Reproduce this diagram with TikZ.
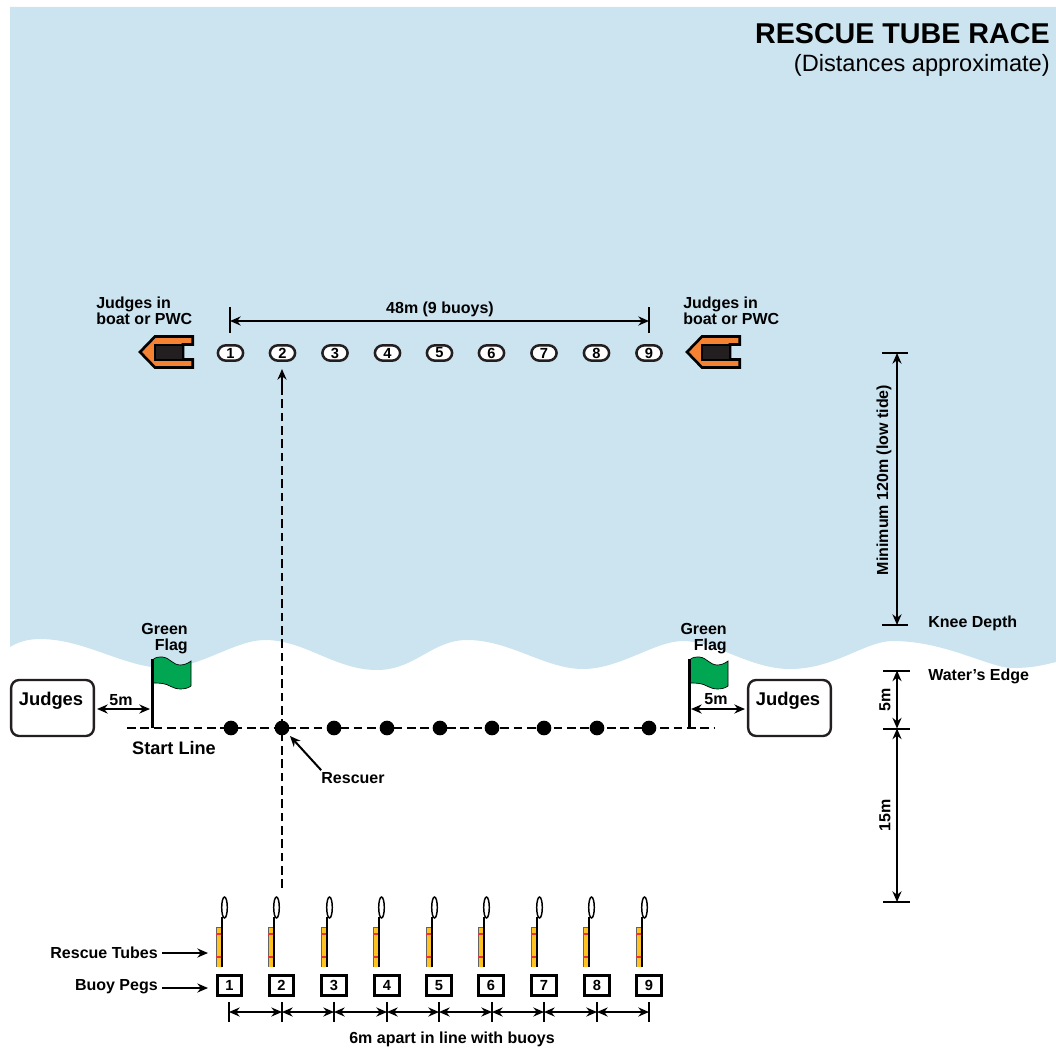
\documentclass[tikz,border=0pt]{standalone}
\usepackage{fontspec}
\setmainfont{Liberation Sans}
\usepackage{xcolor}
\usetikzlibrary{arrows.meta}
\definecolor{watercolor}{RGB}{203,228,240}
\definecolor{flagcolor}{RGB}{0,166,81}
\definecolor{boatcolor}{RGB}{245,130,50}
\definecolor{tubecolor}{RGB}{255,194,32}
\definecolor{bandcolor}{RGB}{237,50,55}
\definecolor{inkcolor}{RGB}{35,31,32}

\begin{document}
\begin{tikzpicture}[
    x=0.75pt,
    y=-0.75pt,
    every node/.style={text=black},
    label/.style={font=\fontsize{12}{12}\selectfont\bfseries, align=left, inner sep=0pt},
    buoy/.style={rectangle, draw=inkcolor, fill=white, rounded corners=6pt, line width=1.9pt, minimum width=19pt, minimum height=11.5pt, inner sep=0pt, font=\fontsize{11}{11}\selectfont\bfseries},
    peg/.style={rectangle, draw=black, fill=white, line width=2.1pt, minimum width=18.5pt, minimum height=15.5pt, inner sep=0pt, font=\fontsize{11}{11}\selectfont\bfseries},
    swimmer/.style={circle, fill=black, minimum size=11pt, inner sep=0pt},
    judges/.style={rectangle, draw=inkcolor, fill=white, rounded corners=6pt, line width=1.8pt, minimum width=62pt, minimum height=42pt},
    arrow/.style={-{Stealth[length=8pt,width=6.8pt]}, line width=1.5pt},
    dimarrow/.style={{Stealth[length=8pt,width=6.8pt]}-{Stealth[length=8pt,width=6.8pt]}, line width=1.5pt},
    tick/.style={line width=1.5pt},
    dashline/.style={line width=2pt, dash pattern=on 6.5pt off 3.5pt},
    boat/.pic={
        \draw[fill=boatcolor, line width=2pt, line join=miter] (-26,0) -- (-11,-15.5) -- (26.7,-15.5) -- (26.7,-7.5) -- (17,-7.5) -- (17,7.5) -- (26.7,7.5) -- (26.7,15.5) -- (-11,15.5) -- cycle;
        \draw[fill=inkcolor, line width=1.5pt] (-11,-7.5) rectangle (17,7.5);
    },
    greenflag/.pic={
        \draw[fill=flagcolor, line width=0.5pt] (0,0) .. controls (3,-3) and (6,-3) .. (10,-3) .. controls (18,-2) and (20,5) .. (28,5) .. controls (32,5) and (36,3) .. (38.5,1) -- (38.5,26) .. controls (36,28) and (32,29) .. (28,29) .. controls (20,29) and (16,24) .. (10,23.5) .. controls (6,23) and (3,23) .. (0,23) -- cycle;
        \draw[line width=2.2pt] (0,-1) -- (0,68);
    },
    rescuetube/.pic={
        \fill[tubecolor] (-2.7,-20) rectangle (3,20);
        \draw[inkcolor!70, line width=0.5pt] (-2.7,20) -- (-2.7,-20) -- (3,-20);
        \draw[bandcolor, line width=1.1pt] (-2.7,-13) -- (3,-13);
        \draw[bandcolor, line width=1.1pt] (-2.7,10) -- (3,10);
        \draw[line width=1pt] (3,20) -- (3,-30);
        \draw[line width=1.1pt] (5.5,-39.5) ellipse (2.8 and 10.5);
    }
]
\useasboundingbox (0,0) rectangle (1056,1049);

% Water
\fill[watercolor] (10,7) -- (1056,7) -- (1056,662) .. controls (1040,666) and (1030,668) .. (1012,668) .. controls (990,668) and (945,641) .. (893,641) .. controls (865,641) and (835,669) .. (790,669) .. controls (750,669) and (715,641) .. (683,641) .. controls (655,641) and (620,669) .. (583,669) .. controls (545,669) and (510,640) .. (467,640) .. controls (432,640) and (415,670) .. (377,670) .. controls (335,670) and (305,640) .. (265,640) .. controls (235,640) and (200,668) .. (165,668) .. controls (125,668) and (85,639) .. (40,639) .. controls (28,639) and (18,642) .. (10,647) -- cycle;

% Title
\node[anchor=east, inner sep=0pt, font=\fontsize{21.5}{24}\selectfont\bfseries] (title) at (1050,34) {RESCUE TUBE RACE};
\node[anchor=east, inner sep=0pt, font=\fontsize{17.7}{20}\selectfont] (subtitle) at (1050,65) {(Distances approximate)};

% Boats
\pic at (166,352) {boat};
\pic at (713,352) {boat};
\node[label, anchor=north west] (boat_left) at (96,297) {Judges in\\boat or PWC};
\node[label, anchor=north west] (boat_right) at (683,297) {Judges in\\boat or PWC};

% Buoys
\node[buoy] (buoy1) at (230.5,353) {1};
\node[buoy] (buoy2) at (282.5,353) {2};
\node[buoy] (buoy3) at (335,353) {3};
\node[buoy] (buoy4) at (387.5,353) {4};
\node[buoy] (buoy5) at (439.5,353) {5};
\node[buoy] (buoy6) at (491.5,353) {6};
\node[buoy] (buoy7) at (544,353) {7};
\node[buoy] (buoy8) at (596.5,353) {8};
\node[buoy] (buoy9) at (649,353) {9};

% Buoy span
\coordinate (span_a) at (230,321);
\coordinate (span_b) at (649,321);
\draw[tick] (230,307) -- (230,333);
\draw[tick] (649,307) -- (649,333);
\draw[dimarrow] (span_a) -- (span_b);
\node[label] (span_text) at (440,309) {48m (9 buoys)};

% Start line
\coordinate (start_a) at (127,728);
\coordinate (start_b) at (715,728);
\draw[dashline] (start_a) -- (start_b);
\node[label, font=\fontsize{13.6}{14}\selectfont\bfseries] (start_text) at (174,748) {Start Line};

% Flags
\pic at (152.5,660) {greenflag};
\pic at (689.5,660) {greenflag};
\node[label, align=right, anchor=north east] (flag_left) at (188,623) {Green\\Flag};
\node[label, align=right, anchor=north east] (flag_right) at (727,623) {Green\\Flag};

% Judges
\node[judges] (judges_left) at (52.5,708) {};
\node[judges] (judges_right) at (789.5,708) {};
\node[label, font=\fontsize{13.8}{14}\selectfont\bfseries] (judges_left_text) at (51,701) {Judges};
\node[label, font=\fontsize{13.8}{14}\selectfont\bfseries] (judges_right_text) at (788,701) {Judges};
\coordinate (pole_left) at (150,709);
\coordinate (pole_right) at (691,709);
\draw[dimarrow] (judges_left.east |- pole_left) ++(2,0) coordinate (gap_left) -- (pole_left);
\draw[dimarrow] (pole_right) -- (745,709) coordinate (gap_right);
\node[label] (gap_left_text) at (121,700) {5m};
\node[label] (gap_right_text) at (716,699) {5m};

% Rescuers
\node[swimmer] (dot1) at (231,728) {};
\node[swimmer] (dot2) at (282,728) {};
\node[swimmer] (dot3) at (334,728) {};
\node[swimmer] (dot4) at (387,728) {};
\node[swimmer] (dot5) at (440,728) {};
\node[swimmer] (dot6) at (492,728) {};
\node[swimmer] (dot7) at (544,728) {};
\node[swimmer] (dot8) at (597,728) {};
\node[swimmer] (dot9) at (649,728) {};
\node[label] (rescuer) at (353,778) {Rescuer};
\draw[arrow] (rescuer.north west) ++(0,-2) coordinate (rescuer_tail) -- ([shift={(8,8)}]dot2.center);

% Race route
\coordinate (route_a) at (282,888);
\coordinate (route_b) at (282,369);
\draw[dashline] (route_a) -- (282,385);
\draw[arrow] (282,386) -- (route_b);

% Tubes
\pic at (219,947) {rescuetube};
\pic at (271,947) {rescuetube};
\pic at (324,947) {rescuetube};
\pic at (376,947) {rescuetube};
\pic at (429,947) {rescuetube};
\pic at (481,947) {rescuetube};
\pic at (534,947) {rescuetube};
\pic at (586,947) {rescuetube};
\pic at (639,947) {rescuetube};
\node[label, anchor=east] (tubes_text) at (158,953) {Rescue Tubes};
\coordinate (tubes_end) at (208,953);
\draw[arrow] (162,953) -- (tubes_end);

% Pegs
\node[peg] (peg1) at (229.5,985.5) {1};
\node[peg] (peg2) at (281.5,985.5) {2};
\node[peg] (peg3) at (334,985.5) {3};
\node[peg] (peg4) at (387,985.5) {4};
\node[peg] (peg5) at (439,985.5) {5};
\node[peg] (peg6) at (491,985.5) {6};
\node[peg] (peg7) at (544,985.5) {7};
\node[peg] (peg8) at (597,985.5) {8};
\node[peg] (peg9) at (649,985.5) {9};
\node[label, anchor=east] (pegs_text) at (158,987) {Buoy Pegs};
\coordinate (pegs_end) at (208,988);
\draw[arrow] (162,988) -- (pegs_end);

% Peg spacing
\coordinate (gap1) at (229,1012);
\coordinate (gap2) at (282,1012);
\coordinate (gap3) at (334,1012);
\coordinate (gap4) at (387,1012);
\coordinate (gap5) at (439,1012);
\coordinate (gap6) at (492,1012);
\coordinate (gap7) at (544,1012);
\coordinate (gap8) at (597,1012);
\coordinate (gap9) at (649,1012);
\draw[dimarrow] (gap1) -- (gap2);
\draw[dimarrow] (gap2) -- (gap3);
\draw[dimarrow] (gap3) -- (gap4);
\draw[dimarrow] (gap4) -- (gap5);
\draw[dimarrow] (gap5) -- (gap6);
\draw[dimarrow] (gap6) -- (gap7);
\draw[dimarrow] (gap7) -- (gap8);
\draw[dimarrow] (gap8) -- (gap9);
\draw[tick] (229,1002) -- (229,1022);
\draw[tick] (282,1002) -- (282,1022);
\draw[tick] (334,1002) -- (334,1022);
\draw[tick] (387,1002) -- (387,1022);
\draw[tick] (439,1002) -- (439,1022);
\draw[tick] (492,1002) -- (492,1022);
\draw[tick] (544,1002) -- (544,1022);
\draw[tick] (597,1002) -- (597,1022);
\draw[tick] (649,1002) -- (649,1022);
\node[label] (gap_text) at (452,1039) {6m apart in line with buoys};

% Distances on the right
\coordinate (far) at (897,353);
\coordinate (knee) at (897,625);
\coordinate (edge) at (897,670.5);
\coordinate (line) at (897,728.5);
\coordinate (tubes) at (897,902);
\draw[tick] (882,353) -- (908,353);
\draw[tick] (882,625) -- (908,625);
\draw[tick] (883,670.5) -- (910,670.5);
\draw[tick] (883,728.5) -- (910,728.5);
\draw[tick] (883,902) -- (910,902);
\draw[dimarrow] (far) -- (knee);
\draw[dimarrow] (edge) -- (line);
\draw[dimarrow] (line) -- (tubes);
\node[label, rotate=90] (far_text) at (884,480) {Minimum 120m (low tide)};
\node[label, rotate=90] (edge_text) at (885,700) {5m};
\node[label, rotate=90] (line_text) at (885,815) {15m};
\node[label, anchor=west] (knee_text) at (928,623) {Knee Depth};
\node[label, anchor=west] (water_text) at (928,676) {Water's Edge};

\end{tikzpicture}
\end{document}
